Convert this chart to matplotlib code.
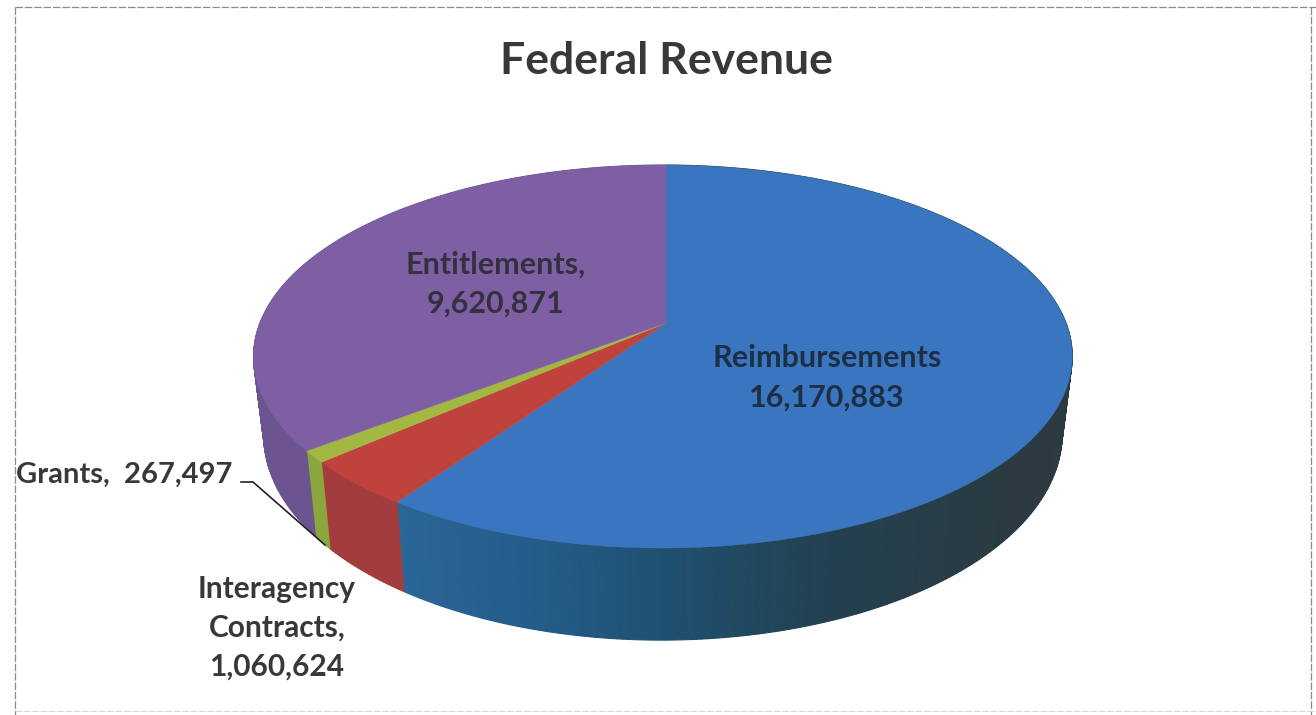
# coding=utf8
import numpy as np
import matplotlib
matplotlib.use('Agg')
import matplotlib.pyplot as plt
from matplotlib.colors import to_rgb

categories = ['Reimbursements', 'Interagency Contracts', 'Grants', 'Entitlements']
values = [16170883, 1060624, 267497, 9620871]
top_colors = ['#3a76c0', '#bf433c', '#a3b842', '#7f5fa3']
side_colors = ['#2a69a2', '#a33c3c', '#8ba63c', '#6b548f']

# pie geometry, pixels
cx, cy = 666, 323
rad_x, rad_y = 403, 185.6
persp, tilt = 0.175, 0.0075
shrink, depth = 0.975, 76


def rim(theta, lower=False):
    # theta clockwise from 12 o'clock, lower=True gives the bottom edge of the disc
    u, v = np.sin(theta), np.cos(theta)
    d = 1 + persp * v + tilt * u
    px, py = rad_x * u / d, rad_y * v / d
    if lower:
        return cx + px * shrink, cy - py + depth / d
    return cx + px, cy - py


def blue_side(t):
    # blue wall goes almost black towards the right
    stops = np.radians([70, 130, 160, 180, 195, 215])
    cols = ['#2c3c42', '#2b3a40', '#234050', '#1f5070', '#245c88', '#2a6698']
    rgb = np.array([to_rgb(c) for c in cols])
    return [np.interp(t, stops, rgb[:, i]) for i in range(3)]


fig = plt.figure(figsize=(13.16, 7.15), dpi=100)
ax = fig.add_axes([0, 0, 1, 1])
ax.set_xlim(0, 1316)
ax.set_ylim(715, 0)
ax.axis('off')

fracs = np.array(values) / sum(values)
edges = np.concatenate([[0], np.cumsum(fracs)]) * 2 * np.pi

# outer wall first, back to front
for i in range(len(values)):
    ts = np.linspace(edges[i], edges[i + 1], max(int((edges[i + 1] - edges[i]) * 90), 3))
    for a, b in zip(ts[:-1], ts[1:]):
        x1, y1 = rim(a)
        x2, y2 = rim(b)
        x3, y3 = rim(b, True)
        x4, y4 = rim(a, True)
        col = blue_side((a + b) / 2) if i == 0 else side_colors[i]
        ax.fill([x1, x2, x3, x4], [y1, y2, y3, y4], color=col, lw=0.8, zorder=2)

# top face
for i in range(len(values)):
    ts = np.linspace(edges[i], edges[i + 1], 200)
    xs, ys = rim(ts)
    ax.fill(np.r_[cx, xs], np.r_[cy, ys], color=top_colors[i], lw=0.3, zorder=3)

txt = dict(family=['Lato', 'DejaVu Sans'], weight='bold', color='#383838', ha='center', va='center')
ax.text(666, 61, 'Federal Revenue', fontsize=32, zorder=5, **txt)
ax.text(827, 378, f'{categories[0]}\n{values[0]:,}', fontsize=22, linespacing=1.48, zorder=5,
        **{**txt, 'color': '#1d2f45'})
ax.text(277, 628, f'Interagency\nContracts,\n{values[1]:,}', fontsize=21.5, linespacing=1.48, zorder=5, **txt)
ax.text(124, 475, f'{categories[2]},  {values[2]:,}', fontsize=21, zorder=5, **txt)
ax.text(496, 284, f'{categories[3]},\n{values[3]:,}', fontsize=22, linespacing=1.48, zorder=5,
        **{**txt, 'color': '#33303f'})

# leader line for the small slice
ax.plot([241, 253, 325], [482, 482, 545], color='#222222', lw=1.2, zorder=4)

# faint frame around the chart area
frame = dict(color='#8a8a8a', lw=0.9, ls=(0, (6, 1.5)), zorder=1)
ax.plot([15, 1316], [7, 7], **frame)
ax.plot([15, 15], [7, 715], **frame)
ax.plot([1311, 1311], [7, 715], **frame)
ax.plot([15, 1316], [711, 711], color='#d8d8d8', lw=0.8, ls=(0, (6, 1.5)), zorder=1)

fig.savefig('out.png', dpi=100)
